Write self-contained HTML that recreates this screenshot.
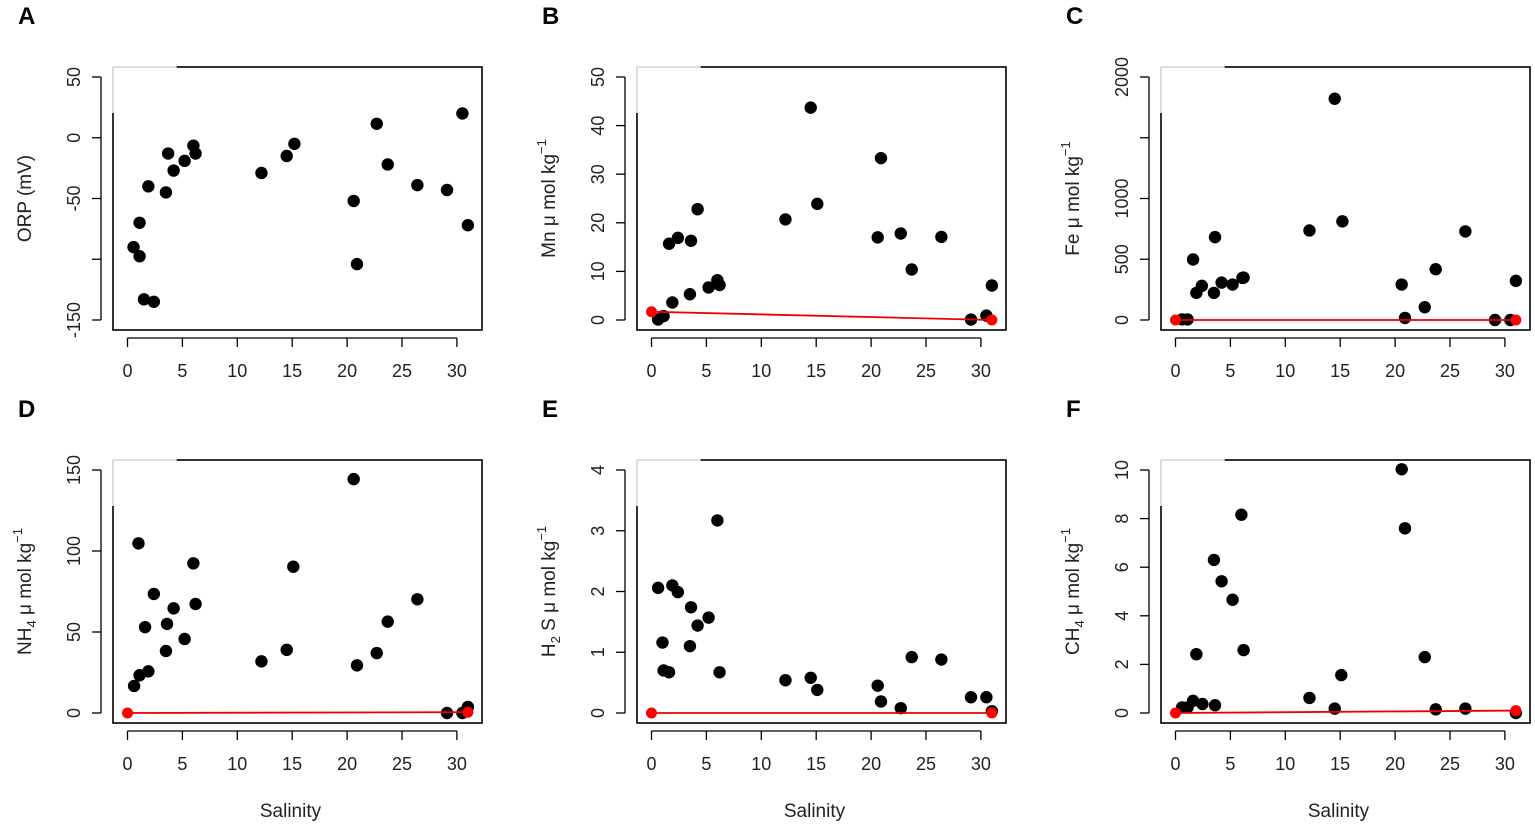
<!DOCTYPE html>
<html><head><meta charset="utf-8">
<style>
html,body{margin:0;padding:0;background:#fff;}
svg{display:block;font-family:"Liberation Sans",Arial,sans-serif;}
</style></head>
<body>
<svg id="fig" width="1535" height="828" viewBox="0 0 1535 828" xmlns="http://www.w3.org/2000/svg"></svg>
<script>
// Data arrays
const salA = [0.55,1.1,1.1,1.5,2.4,1.9,3.5,3.7,4.2,5.2,6.0,6.2,12.2,14.5,15.2,20.6,20.9,22.7,23.7,26.4,29.1,30.5,31.0];
const orpA = [-90,-97.5,-70,-133,-135,-40,-45,-13,-27,-19,-6.5,-13,-29,-15,-5,-52,-104,11.5,-22,-39,-43,20,-72];
const salB = [0.6,1.1,1.9,1.6,2.4,3.6,3.5,4.2,5.2,6.0,6.2,12.2,14.5,15.1,20.6,20.9,22.7,23.7,26.4,29.1,30.5,31.0];
const mnB  = [0.1,0.8,3.6,15.7,16.9,16.3,5.3,22.8,6.7,8.2,7.2,20.7,43.7,23.9,17.0,33.3,17.8,10.4,17.1,0.1,0.9,7.1];
const salC = [0.6,1.1,1.6,1.9,2.4,3.6,3.5,4.2,5.2,6.1,6.2,12.2,14.5,15.2,20.6,20.9,22.7,23.7,26.4,29.1,30.5,31.0];
const feC  = [5,5,498,223,281,682,223,308,292,347,349,737,1821,812,292,17,105,418,729,0,0,322];
const salD = [0.6,1.1,1.0,1.9,1.6,2.4,3.5,3.6,4.2,5.2,6.0,6.2,12.2,14.5,15.1,20.6,20.9,22.7,23.7,26.4,29.1,30.5,31.0];
const nhD  = [16.7,23.3,104.7,25.7,53,73.5,38.3,55,64.6,45.7,92.4,67.3,31.9,39,90.3,144.4,29.4,37,56.4,70.2,0,0,3.7];
const salE = [0.6,1.0,1.1,1.6,1.9,2.4,3.5,3.6,4.2,5.2,6.0,6.2,12.2,14.5,15.1,20.6,20.9,22.7,23.7,26.4,29.1,30.5,31.0];
const h2sE = [2.06,1.16,0.70,0.67,2.10,1.99,1.10,1.74,1.44,1.57,3.17,0.67,0.54,0.58,0.38,0.45,0.19,0.08,0.92,0.88,0.26,0.26,0.03];
const salF = [0.6,1.1,1.6,1.9,2.45,3.5,3.6,4.2,5.2,6.0,6.2,12.2,14.5,15.1,20.6,20.9,22.7,23.7,26.4,31.0];
const chF  = [0.23,0.23,0.5,2.42,0.37,6.3,0.32,5.42,4.66,8.16,2.59,0.62,0.18,1.56,10.03,7.6,2.3,0.15,0.18,0.0];
const xTicks = [0,5,10,15,20,25,30];
const mixB = [[0,1.7],[31,0]];
const mixC = [[0,0],[31,0]];
const mixD = [[0,0],[31,0.5]];
const mixE = [[0,0],[31,0]];
const mixF = [[0,0],[31,0.1]];

const NS="http://www.w3.org/2000/svg";
const svg=document.getElementById('fig');
function mk(tag,attrs,parent){const e=document.createElementNS(NS,tag);for(const k in attrs)e.setAttribute(k,attrs[k]);(parent||svg).appendChild(e);return e;}

const panels=[
 {id:'a',letter:'A',col:0,row:0,xs:salA,ys:orpA,ymin:-150,ymax:50,ticks:[-150,-100,-50,0,50],labels:['-150','','-50','0','50'],title:'ORP (mV)',mix:null},
 {id:'b',letter:'B',col:1,row:0,xs:salB,ys:mnB,ymin:0,ymax:50,ticks:[0,10,20,30,40,50],labels:['0','10','20','30','40','50'],title:'Mn',mix:mixB},
 {id:'c',letter:'C',col:2,row:0,xs:salC,ys:feC,ymin:0,ymax:2000,ticks:[0,500,1000,1500,2000],labels:['0','500','1000','','2000'],title:'Fe',mix:mixC},
 {id:'d',letter:'D',col:0,row:1,xs:salD,ys:nhD,ymin:0,ymax:150,ticks:[0,50,100,150],labels:['0','50','100','150'],title:'NH',sub:'4',mix:mixD},
 {id:'e',letter:'E',col:1,row:1,xs:salE,ys:h2sE,ymin:0,ymax:4,ticks:[0,1,2,3,4],labels:['0','1','2','3','4'],title:'H',sub:'2',after:' S',mix:mixE},
 {id:'f',letter:'F',col:2,row:1,xs:salF,ys:chF,ymin:0,ymax:10,ticks:[0,2,4,6,8,10],labels:['0','2','4','6','8','10'],title:'CH',sub:'4',mix:mixF},
];

panels.forEach(p=>{
  const L=113+524*p.col, T=p.row?460:67, W=369, H=263;
  const yTop=p.row?470:77, yBot=p.row?713:320;
  const sx=v=>L+14.5+v*10.98;
  const sy=v=>yBot-(v-p.ymin)/(p.ymax-p.ymin)*(yBot-yTop);
  const g=mk('g',{});
  
  
  const lt=mk('text',{x:L-95,y:T-43,'font-size':24,'font-weight':'bold'},g);lt.textContent=p.letter;
  
  
  const box=mk('rect',{x:L,y:T,width:W,height:H,fill:'none',stroke:'#000','stroke-width':1.6},g);
  
  
  mk('rect',{x:L-1.5,y:T-1.5,width:65,height:47.5,fill:'#fff'},g);
  mk('line',{x1:L,y1:T,x2:L+64,y2:T,stroke:'#aaa','stroke-width':0.8},g);
  mk('line',{x1:L,y1:T,x2:L,y2:T+46,stroke:'#aaa','stroke-width':0.8},g);
  // x axis
  const xa=mk('g',{},g);
  
  
  mk('line',{x1:sx(0),x2:sx(30),y1:T+H+8,y2:T+H+8,stroke:'#000','stroke-width':1.3},xa);
  xTicks.forEach(t=>{
    mk('line',{x1:sx(t),x2:sx(t),y1:T+H+8,y2:T+H+17,stroke:'#000','stroke-width':1.3},xa);
    const tx=mk('text',{x:sx(t),y:T+H+47,'font-size':18,'text-anchor':'middle',fill:'#222'},xa);tx.textContent=t;
    
    
  });
  if(p.row===1){const st=mk('text',{x:L+W/2-7,y:817,'font-size':19,'text-anchor':'middle',fill:'#222'},g);st.textContent='Salinity';
    
    }
  // y axis
  const ya=mk('g',{},g);
  
  
  mk('line',{x1:L-12,x2:L-12,y1:sy(p.ticks[0]),y2:sy(p.ticks[p.ticks.length-1]),stroke:'#000','stroke-width':1.3},ya);
  p.ticks.forEach((t,i)=>{
    mk('line',{x1:L-12,x2:L-21,y1:sy(t),y2:sy(t),stroke:'#000','stroke-width':1.3},ya);
    if(p.labels[i]){const yt=mk('text',{x:0,y:0,'font-size':18,'text-anchor':'middle',fill:'#222',transform:`translate(${L-33},${sy(t)}) rotate(-90)`},ya);yt.textContent=p.labels[i];
      
      }
  });
  const cy=(T+H/2);
  const tt=mk('text',{x:0,y:0,'font-size':19,'text-anchor':'middle',fill:'#222',transform:`translate(${L-82},${cy}) rotate(-90)`},g);
  
  
  if(p.id==='a'){tt.textContent='ORP (mV)';}
  else{
    const a=mk('tspan',{},tt);a.textContent=p.title;
    if(p.sub){const s=mk('tspan',{'font-size':13,dy:5},tt);s.textContent=p.sub;const r=mk('tspan',{dy:-5},tt);r.textContent=(p.after||'')+' μ mol kg';}
    else{const r=mk('tspan',{},tt);r.textContent=' μ mol kg';}
    const e=mk('tspan',{'font-size':13,dy:-9},tt);e.textContent='−1';
  }
  // points
  p.xs.forEach((x,i)=>{
    const c=mk('circle',{cx:sx(x),cy:sy(p.ys[i]),r:6.2,fill:'#000'},g);
    
    
  });
  if(p.mix){
    const ln=mk('line',{x1:sx(p.mix[0][0]),y1:sy(p.mix[0][1]),x2:sx(p.mix[1][0]),y2:sy(p.mix[1][1]),stroke:'#e00','stroke-width':1.8},g);
    
    
    p.mix.forEach(m=>{const c=mk('circle',{cx:sx(m[0]),cy:sy(m[1]),r:5.5,fill:'#f00'},g);
      
      });
  }
});
</script>
</body></html>
